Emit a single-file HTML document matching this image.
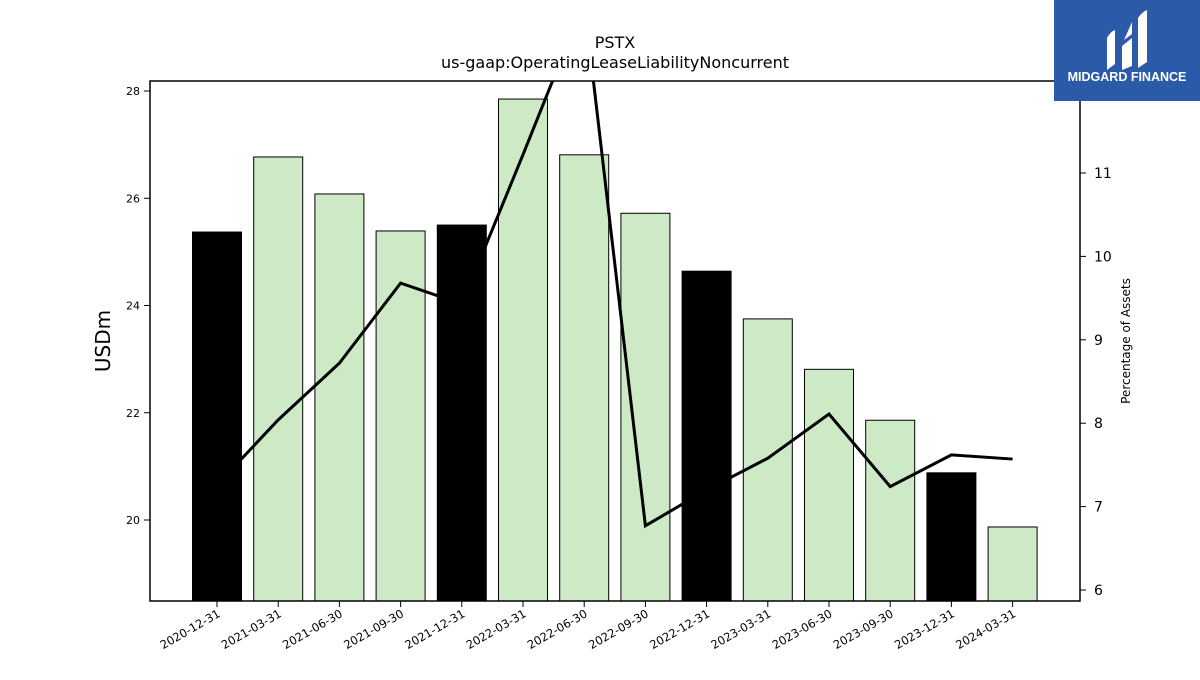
<!DOCTYPE html>
<html><head><meta charset="utf-8"><style>
body{margin:0;background:#fff;font-family:"Liberation Sans","DejaVu Sans",sans-serif}
</style></head><body>
<svg id="chart" width="1200" height="675" xmlns="http://www.w3.org/2000/svg" style="font-family:'DejaVu Sans','Liberation Sans',sans-serif">
<text x="615" y="48" text-anchor="middle" font-size="16">PSTX</text>
<text x="615" y="68" text-anchor="middle" font-size="16">us-gaap:OperatingLeaseLiabilityNoncurrent</text>
<text transform="translate(110,341) rotate(-90)" text-anchor="middle" font-size="20">USDm</text>
<text transform="translate(1130,341) rotate(-90)" text-anchor="middle" font-size="12">Percentage of Assets</text>
<g id="bars"></g><g id="line"></g><g id="axes"></g>
<rect x="150" y="81" width="930" height="520" fill="none" stroke="#000" stroke-width="1.5"/>
<g>
<rect x="1054" y="0" width="146" height="101" fill="#2b5ba8"/>
<path d="M1107 70 V38 Q1110 32 1115 30 V64 Z M1122 70 V46 L1132 38 V66 Z M1138 68 V18 Q1142 12 1147 10 V62 Z M1124 40 L1132 22 V34 Z" fill="#fff"/>
<text x="1127" y="81" text-anchor="middle" font-size="12.5" font-weight="bold" fill="#fff" font-family="Liberation Sans,sans-serif">MIDGARD FINANCE</text>
</g>
</svg>
<script>
const categories=["2020-12-31","2021-03-31","2021-06-30","2021-09-30","2021-12-31","2022-03-31","2022-06-30","2022-09-30","2022-12-31","2023-03-31","2023-06-30","2023-09-30","2023-12-31","2024-03-31"];
const barValues=[25.37,26.77,26.08,25.39,25.5,27.85,26.81,25.72,24.64,23.75,22.81,21.86,20.88,19.87];
const pctValues=[7.26,8.04,8.72,9.68,9.43,11.22,13.05,6.77,7.2,7.58,8.11,7.24,7.62,7.57];
const leftTicks=[20,22,24,26,28];
const rightTicks=[6,7,8,9,10,11];
const NS="http://www.w3.org/2000/svg";
const x=i=>217+i*61.2;
const yL=v=>520-(v-20)*53.625;
const yR=v=>590-(v-6)*83.4;
function mk(t,a,p){const e=document.createElementNS(NS,t);for(const k in a)e.setAttribute(k,a[k]);p.appendChild(e);return e;}
const bars=document.getElementById('bars'),line=document.getElementById('line'),axes=document.getElementById('axes');
barValues.forEach((v,i)=>{
 const black=(i%4===0);
 const r=mk('rect',{x:x(i)-24.5,y:yL(v),width:49,height:601-yL(v),fill:black?'#000':'#cde9c6',stroke:'#000','stroke-width':1},bars);
 
 
});
const cp=mk('clipPath',{id:'clip'},line);mk('rect',{x:150,y:81,width:930,height:520},cp);
const pl=mk('polyline',{points:pctValues.map((v,i)=>x(i)+','+yR(v)).join(' '),fill:'none',stroke:'#000','stroke-width':3,'clip-path':'url(#clip)'},line);


leftTicks.forEach(t=>{
 mk('line',{x1:144,x2:150,y1:yL(t),y2:yL(t),stroke:'#000'},axes);
 const tx=mk('text',{x:140,y:yL(t)+4,'text-anchor':'end','font-size':11},axes);tx.textContent=t;
 
 
});
rightTicks.forEach(t=>{
 mk('line',{x1:1080,x2:1086,y1:yR(t),y2:yR(t),stroke:'#000'},axes);
 const tx=mk('text',{x:1094,y:yR(t)+5,'font-size':14},axes);tx.textContent=t;
 
 
});
categories.forEach((c,i)=>{
 mk('line',{x1:x(i),x2:x(i),y1:601,y2:607,stroke:'#000'},axes);
 const tx=mk('text',{transform:`translate(${x(i)+4},${616}) rotate(-30)`,'text-anchor':'end','font-size':11.5},axes);tx.textContent=c;
 
 
});
</script>
</body></html>
